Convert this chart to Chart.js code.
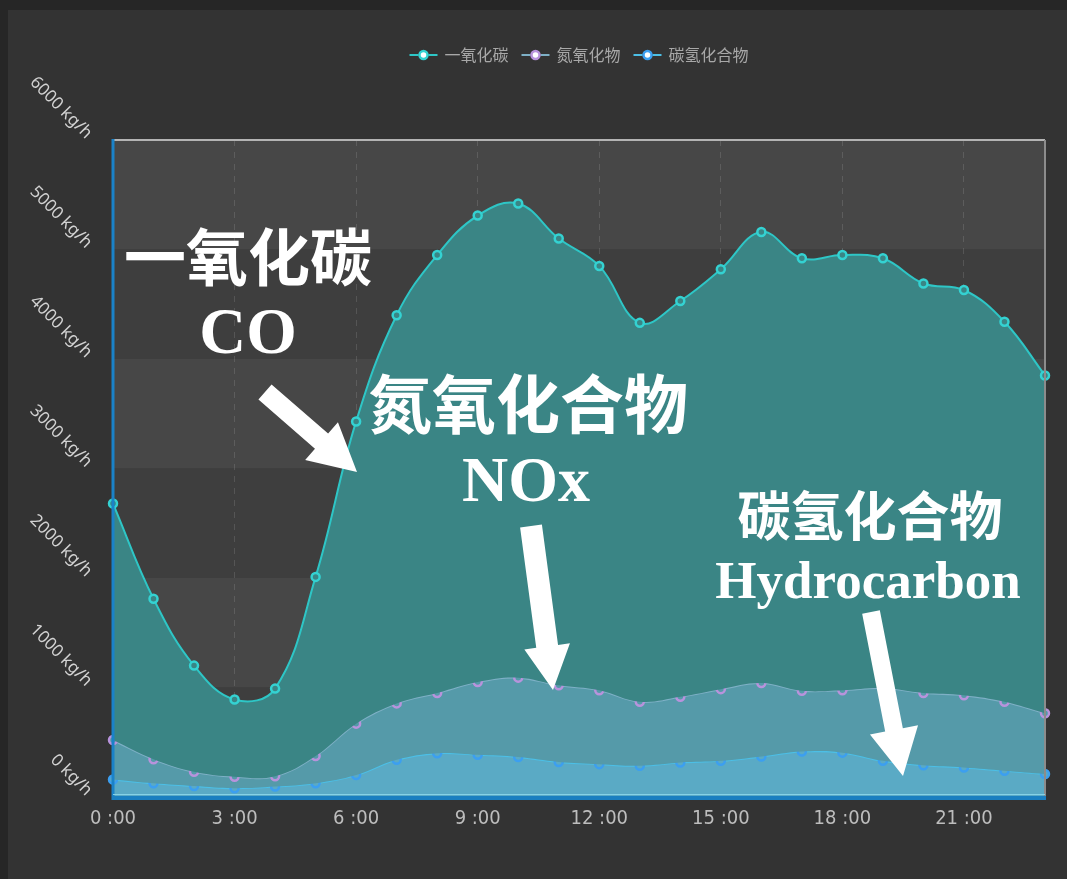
<!DOCTYPE html>
<html lang="zh-CN">
<head>
<meta charset="UTF-8">
<title>排放量</title>
<script src="https://cdn.jsdelivr.net/npm/chart.js@4.4.1/dist/chart.umd.min.js"></script>
<style>
    html, body { margin: 0; padding: 0; background: #333333; }
    #wrap { width: 1067px; height: 879px; }
</style>
</head>
<body>
<div id="wrap"><canvas id="emissionChart" width="1067" height="879"></canvas></div>
<script>
// Hours of the day (x axis)
const hourLabels = ['0 :00', '1 :00', '2 :00', '3 :00', '4 :00', '5 :00', '6 :00', '7 :00',
    '8 :00', '9 :00', '10 :00', '11 :00', '12 :00', '13 :00', '14 :00', '15 :00',
    '16 :00', '17 :00', '18 :00', '19 :00', '20 :00', '21 :00', '22 :00', '23 :00'];

// Series names for the legend
const seriesNames = ['一氧化碳', '氮氧化物', '碳氢化合物'];

// Emissions in kg/h
const coValues = [2680, 1810, 1200, 890, 990, 2010, 3430, 4400, 4950, 5310, 5420, 5100,
    4850, 4330, 4530, 4820, 5160, 4920, 4950, 4920, 4690, 4630, 4340, 3850];
const noxValues = [520, 345, 230, 185, 190, 375, 670, 855, 950, 1050, 1090, 1020,
    975, 870, 915, 985, 1040, 970, 975, 995, 950, 930, 870, 765];
const hcValues = [160, 125, 100, 80, 95, 125, 200, 340, 400, 385, 365, 320,
    300, 285, 315, 330, 370, 415, 405, 330, 290, 270, 240, 210];

// Y axis
const yMax = 6000;
const yStep = 1000;
const yUnit = ' kg/h';

// Callout texts
const calloutCO = ['一氧化碳', 'CO'];
const calloutNOx = ['氮氧化合物', 'NOx'];
const calloutHC = ['碳氢化合物', 'Hydrocarbon'];

document.addEventListener('DOMContentLoaded', function() {
    initChart();
});

/**
 * Background, alternating bands and plot frame
 */
const framePlugin = {
    id: 'frame',
    beforeDraw(chart) {
        const {ctx, chartArea: a, scales: {y}} = chart;
        ctx.save();
        ctx.fillStyle = '#333333';
        ctx.fillRect(0, 0, chart.width, chart.height);
        ctx.fillStyle = '#262626';
        ctx.fillRect(0, 0, chart.width, 10);
        ctx.fillRect(0, 0, 8, chart.height);

        // bands between y ticks, lighter one at the top
        const ticks = y.ticks;
        for (let i = 0; i < ticks.length - 1; i++) {
            const top = y.getPixelForValue(ticks[i + 1].value);
            const bottom = y.getPixelForValue(ticks[i].value);
            ctx.fillStyle = ((ticks.length - 2 - i) % 2 === 0) ? '#474747' : '#3e3e3e';
            ctx.fillRect(a.left, top, a.right - a.left, bottom - top);
        }
        ctx.restore();
    },
    afterDatasetsDraw(chart) {
        const {ctx, chartArea: a} = chart;
        ctx.save();
        // top and right edges
        ctx.strokeStyle = '#b4b4b4';
        ctx.lineWidth = 2;
        ctx.beginPath();
        ctx.moveTo(a.left, a.top);
        ctx.lineTo(a.right, a.top);
        ctx.stroke();
        ctx.strokeStyle = '#8c8c8c';
        ctx.beginPath();
        ctx.moveTo(a.right, a.top);
        ctx.lineTo(a.right, a.bottom);
        ctx.stroke();
        // left blue edge
        ctx.strokeStyle = '#1a82c8';
        ctx.lineWidth = 3;
        ctx.beginPath();
        ctx.moveTo(a.left, a.top - 1);
        ctx.lineTo(a.left, a.bottom + 3);
        ctx.stroke();
        // bottom: light line then blue bar
        ctx.strokeStyle = '#86d2e6';
        ctx.lineWidth = 1;
        ctx.beginPath();
        ctx.moveTo(a.left, a.bottom - 2.5);
        ctx.lineTo(a.right, a.bottom - 2.5);
        ctx.stroke();
        ctx.fillStyle = '#1a7fc0';
        ctx.fillRect(a.left - 1, a.bottom - 1, a.right - a.left + 2, 4);
        ctx.restore();
    }
};

/**
 * Legend drawn as line-dot-line markers, centred over the plot
 */
const lineLegendPlugin = {
    id: 'lineLegend',
    afterDraw(chart) {
        const {ctx, chartArea: a} = chart;
        const iconW = 28, gapIcon = 7, gapItem = 13, y = 55;
        ctx.save();
        ctx.font = '16px "Noto Sans CJK SC"';
        ctx.textBaseline = 'middle';
        const items = chart.data.datasets.map(ds => ({
            text: ds.label,
            line: ds.borderColor,
            point: ds.pointBorderColor
        }));
        const widths = items.map(it => iconW + gapIcon + ctx.measureText(it.text).width);
        const total = widths.reduce((s, w) => s + w, 0) + gapItem * (items.length - 1);
        let x = (a.left + a.right) / 2 - total / 2;
        items.forEach((it, i) => {
            ctx.strokeStyle = it.line;
            ctx.lineWidth = 2;
            ctx.beginPath();
            ctx.moveTo(x, y); ctx.lineTo(x + 9, y);
            ctx.moveTo(x + 19, y); ctx.lineTo(x + iconW, y);
            ctx.stroke();
            ctx.fillStyle = '#ffffff';
            ctx.strokeStyle = it.point;
            ctx.lineWidth = 2.5;
            ctx.beginPath();
            ctx.arc(x + 14, y, 4, 0, Math.PI * 2);
            ctx.fill();
            ctx.stroke();
            ctx.fillStyle = '#a8a8a8';
            ctx.fillText(it.text, x + iconW + gapIcon, y);
            x += widths[i] + gapItem;
        });
        ctx.restore();
    }
};

/**
 * Big white callouts with arrows
 */
function drawArrow(ctx, x1, y1, x2, y2, shaftW, headW, headL) {
    const ang = Math.atan2(y2 - y1, x2 - x1);
    const len = Math.hypot(x2 - x1, y2 - y1);
    ctx.save();
    ctx.translate(x1, y1);
    ctx.rotate(ang);
    ctx.beginPath();
    ctx.moveTo(0, -shaftW / 2);
    ctx.lineTo(len - headL, -shaftW / 2);
    ctx.lineTo(len - headL, -headW / 2);
    ctx.lineTo(len, 0);
    ctx.lineTo(len - headL, headW / 2);
    ctx.lineTo(len - headL, shaftW / 2);
    ctx.lineTo(0, shaftW / 2);
    ctx.closePath();
    ctx.fill();
    ctx.restore();
}

const calloutPlugin = {
    id: 'callouts',
    afterDraw(chart) {
        const ctx = chart.ctx;
        ctx.save();
        ctx.fillStyle = '#ffffff';
        ctx.textAlign = 'center';

        ctx.textBaseline = 'middle';
        ctx.font = 'bold 62px "Noto Sans CJK SC"';
        ctx.fillText(calloutCO[0], 248, 257);
        ctx.font = 'bold 64px "Noto Sans CJK SC"';
        ctx.fillText(calloutNOx[0], 528, 404);
        ctx.font = 'bold 53px "Noto Sans CJK SC"';
        ctx.fillText(calloutHC[0], 870, 516);

        ctx.textBaseline = 'alphabetic';
        ctx.font = 'bold 65px "Liberation Serif"';
        ctx.fillText(calloutCO[1], 248, 353);
        ctx.font = 'bold 64px "Liberation Serif"';
        ctx.fillText(calloutNOx[1], 526, 501);
        ctx.font = 'bold 53px "Liberation Serif"';
        ctx.fillText(calloutHC[1], 868, 598);

        drawArrow(ctx, 265, 392, 357, 472, 20, 50, 47);
        drawArrow(ctx, 531, 526, 553, 690, 22, 46, 44);
        drawArrow(ctx, 871, 612, 903, 776, 18, 49, 47);
        ctx.restore();
    }
};

/**
 * Initialize chart
 */
function initChart() {
    const ctx = document.getElementById('emissionChart');

    new Chart(ctx, {
        type: 'line',
        data: {
            labels: hourLabels,
            datasets: [
                {
                    label: seriesNames[0],
                    data: coValues,
                    borderColor: '#2ec6c6',
                    backgroundColor: '#3a8585',
                    pointBorderColor: '#34d2d2',
                    fill: '+1'
                },
                {
                    label: seriesNames[1],
                    data: noxValues,
                    borderColor: '#7eb0c6',
                    backgroundColor: '#559aa9',
                    pointBorderColor: '#b893dc',
                    fill: '+1'
                },
                {
                    label: seriesNames[2],
                    data: hcValues,
                    borderColor: '#4cbfe6',
                    backgroundColor: '#5aaac5',
                    pointBorderColor: '#3c9ff0',
                    fill: 'origin'
                }
            ]
        },
        options: {
            responsive: false,
            animation: false,
            devicePixelRatio: 1,
            layout: {
                padding: { top: 140, right: 22, bottom: 0, left: 0 }
            },
            elements: {
                line: { borderWidth: 2, tension: 0.4 },
                point: { radius: 4, borderWidth: 2.5, backgroundColor: '#ffffff', hoverRadius: 5 }
            },
            plugins: {
                legend: { display: false },
                tooltip: { enabled: false }
            },
            scales: {
                x: {
                    border: { display: false, dash: [6, 6] },
                    grid: {
                        drawTicks: false,
                        // ticks left after the callback are 0:00, 3:00, ... 21:00
                        color: (c) => c.index > 0 ? 'rgba(255,255,255,0.12)' : 'rgba(0,0,0,0)',
                        lineWidth: 1
                    },
                    ticks: {
                        autoSkip: false,
                        maxRotation: 0,
                        padding: 10,
                        color: '#bdbdbd',
                        font: { family: '"DejaVu Sans Condensed", "Liberation Sans Narrow", "Liberation Sans"', size: 20 },
                        callback: function(value, index) {
                            return index % 3 === 0 ? this.getLabelForValue(value) : null;
                        }
                    },
                    afterFit: (scale) => { scale.height = 82; }
                },
                y: {
                    min: 0,
                    max: yMax,
                    border: { display: false },
                    grid: { display: false, drawTicks: false },
                    ticks: {
                        stepSize: yStep,
                        minRotation: -45,
                        maxRotation: -45,
                        padding: 24,
                        labelOffset: -4,
                        color: '#d2d2d2',
                        font: { family: '"Noto Sans"', size: 17 },
                        callback: (value) => value + yUnit
                    },
                    afterFit: (scale) => { scale.width = 113; }
                }
            }
        },
        plugins: [framePlugin, lineLegendPlugin, calloutPlugin]
    });
}
</script>
</body>
</html>
